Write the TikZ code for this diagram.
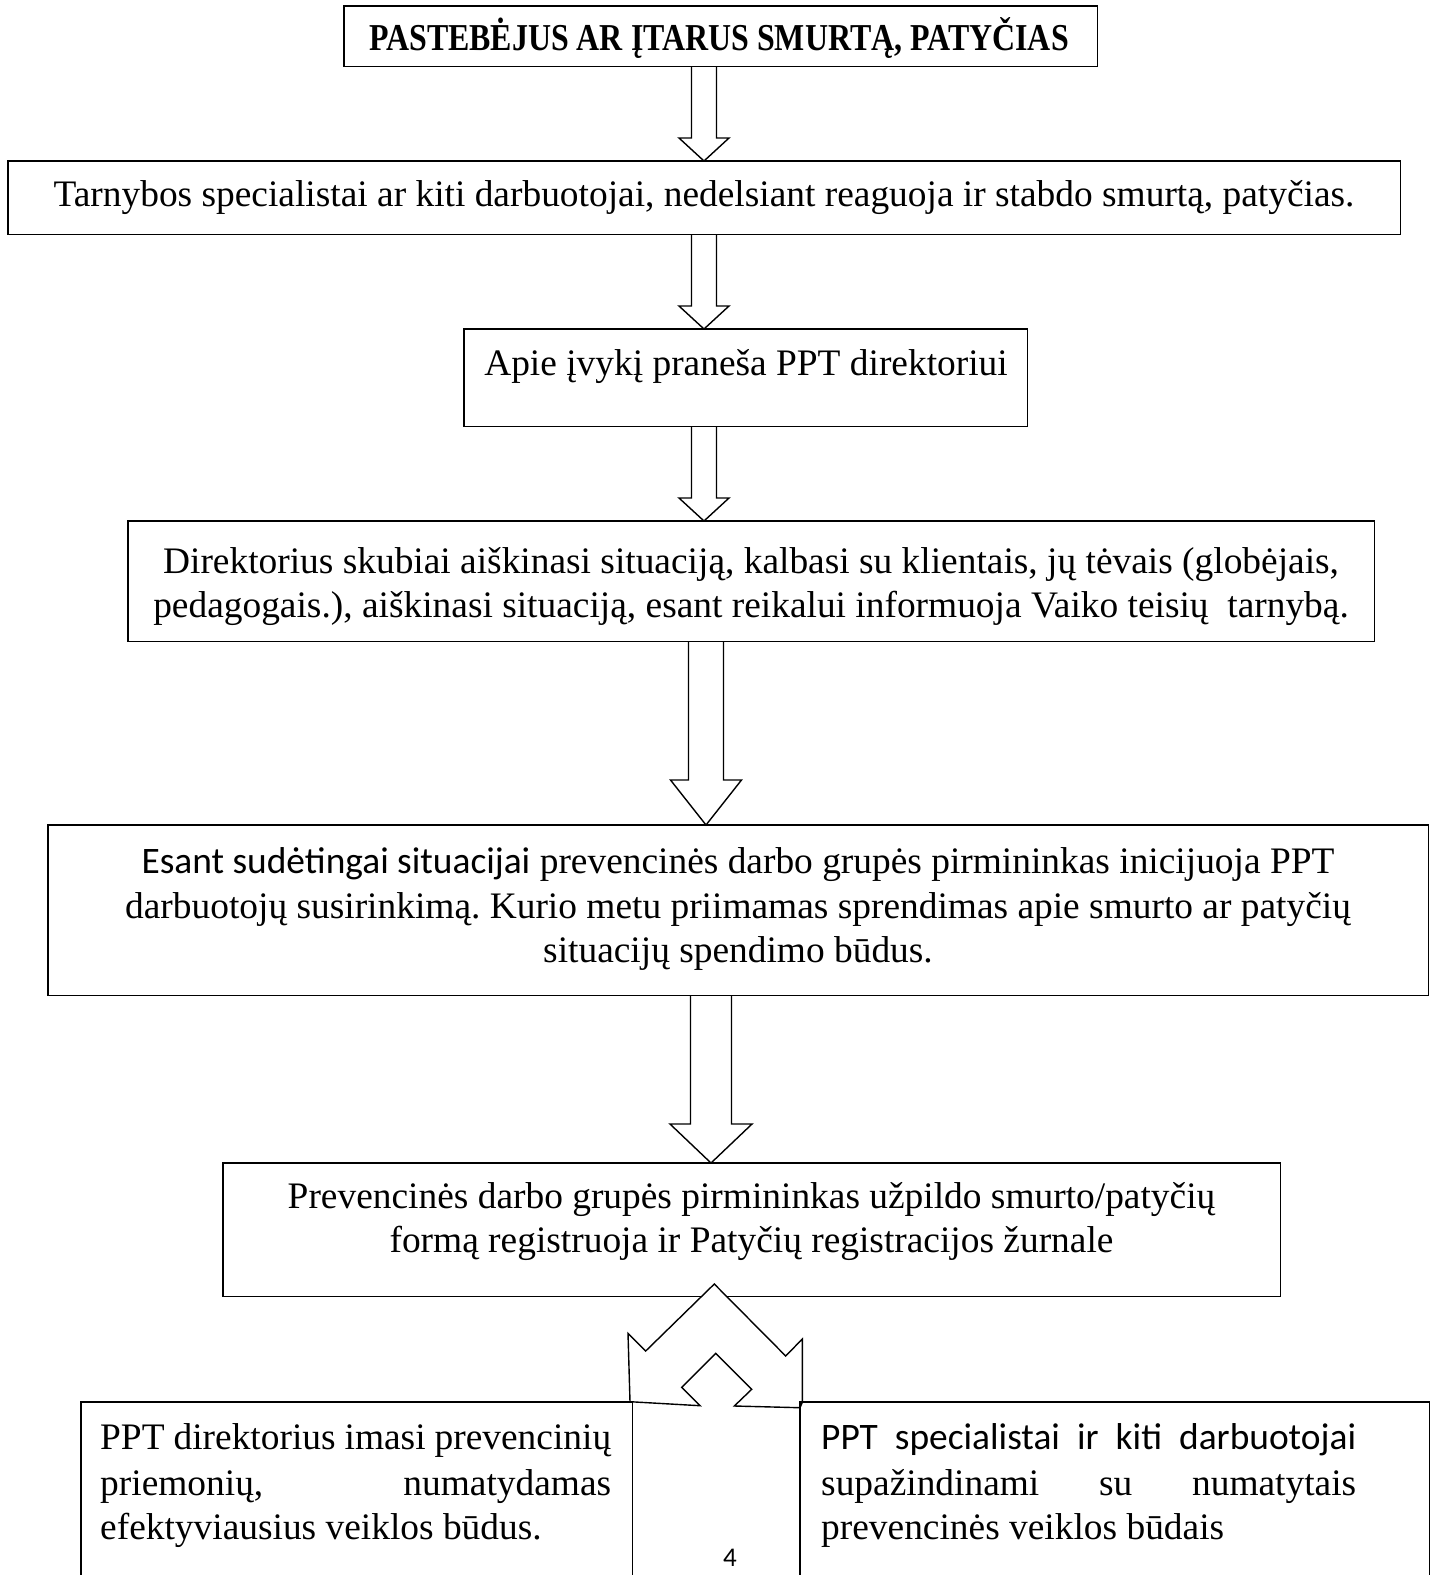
\documentclass[tikz,border=0pt]{standalone}
\usepackage{fontspec}
\setmainfont{Liberation Serif}
\newfontfamily\calib{Carlito}
\usetikzlibrary{calc}
\frenchspacing
\newcommand\blockarrow[6]{%
  \draw[barrow] let \p1=(#1.south), \p2=(#2.north) in
    ({#3pt-#4pt},\y1) -- ({#3pt-#4pt},{\y2+#6pt}) -- ({#3pt-#5pt},{\y2+#6pt})
    -- (#3pt,\y2) -- ({#3pt+#5pt},{\y2+#6pt}) -- ({#3pt+#4pt},{\y2+#6pt})
    -- ({#3pt+#4pt},\y1);}
\begin{document}
\begin{tikzpicture}[x=1pt,y=-1pt,
  geo/.style={inner sep=0pt, anchor=north west},
  boxline/.style={line width=1.8pt},
  txt/.style={anchor=base, inner sep=0pt, font=\fontsize{37.4}{42}\selectfont},
  ltxt/.style={anchor=base west, inner sep=0pt, font=\fontsize{37.4}{42}\selectfont},
  barrow/.style={draw, line width=1.4pt, fill=white, line join=miter}]
\clip (0,0) rectangle (1432,1575);
\fill[white] (0,0) rectangle (1432,1575);
% boxes (geometry)
\path (344,6) node[geo, minimum width=753pt, minimum height=60pt] (b1) {};
\path (8,161) node[geo, minimum width=1392pt, minimum height=73pt] (b2) {};
\path (464,329) node[geo, minimum width=563pt, minimum height=97pt] (b3) {};
\path (128,521) node[geo, minimum width=1246pt, minimum height=120pt] (b4) {};
\path (48,825) node[geo, minimum width=1380pt, minimum height=170pt] (b5) {};
\path (223,1163) node[geo, minimum width=1057pt, minimum height=133pt] (b6) {};
% straight block arrows
\blockarrow{b1}{b2}{704}{12.5}{25}{23}
\blockarrow{b2}{b3}{704}{12.5}{25}{23}
\blockarrow{b3}{b4}{704}{12.5}{25}{23}
\blockarrow{b4}{b5}{706}{17.5}{35.5}{45}
\blockarrow{b5}{b6}{711}{20.5}{41}{39}
% draw boxes
\foreach \b in {b1,b2,b3,b4,b5,b6} \draw[boxline] (\b.north west) rectangle (\b.south east);
% split arrow
\filldraw[barrow] (714.3,1284) coordinate (sa) -- (645.7,1351) -- (628,1333.3) -- (630,1401.7)
  -- (700,1405.7) -- (681.7,1387.3) -- (715.7,1353.3) -- (751.7,1389.3) -- (734.3,1406)
  -- (800,1407.7) -- (802.3,1402.3) -- (802.3,1339) -- (785.7,1356) -- cycle;
% bottom boxes
\path (81,1402) node[geo, minimum width=551pt, minimum height=200pt] (bl) {};
\path (800,1402) node[geo, minimum width=629pt, minimum height=200pt] (br) {};
\draw[boxline] (bl.north west) rectangle (bl.south east);
\draw[boxline] (br.north west) rectangle (br.south east);
% texts
\node[anchor=base, inner sep=0pt, font=\fontsize{38}{42}\selectfont\bfseries] (t1) at (719,50) {\scalebox{0.84}[1]{PASTEBĖJUS AR ĮTARUS SMURTĄ, PATYČIAS}};
\node[txt] (t2) at (704,206) {Tarnybos specialistai ar kiti darbuotojai, nedelsiant reaguoja ir stabdo smurtą, patyčias.};
\node[txt] (t3) at (746,375) {Apie įvykį praneša PPT direktoriui};
\node[txt] (t4a) at (751,573) {Direktorius skubiai aiškinasi situaciją, kalbasi su klientais, jų tėvais (globėjais,};
\node[txt] (t4b) at (751,617) {pedagogais.), aiškinasi situaciją, esant reikalui informuoja Vaiko teisių\ \ tarnybą.};
\node[txt] (t5a) at (738,873) {{\calib Esant sudėtingai situacijai} prevencinės darbo grupės pirmininkas inicijuoja PPT};
\node[txt] (t5b) at (738,918) {darbuotojų susirinkimą. Kurio metu priimamas sprendimas apie smurto ar patyčių};
\node[txt] (t5c) at (738,962) {situacijų spendimo būdus.};
\node[txt] (t6a) at (751.5,1208) {Prevencinės darbo grupės pirmininkas užpildo smurto/patyčių};
\node[txt] (t6b) at (751.5,1252) {formą registruoja ir Patyčių registracijos žurnale};
\node[ltxt] (tla) at (100,1449) {\hbox to 511pt{PPT direktorius imasi prevencinių}};
\node[ltxt] (tlb) at (100,1495) {\hbox to 511pt{priemonių, numatydamas}};
\node[ltxt] (tlc) at (100,1539) {efektyviausius veiklos būdus.};
\node[ltxt] (tra) at (821,1449) {\hbox to 535pt{\calib PPT specialistai ir kiti darbuotojai}};
\node[ltxt] (trb) at (821,1495) {\hbox to 535pt{supažindinami su numatytais}};
\node[ltxt] (trc) at (821,1539) {prevencinės veiklos būdais};
\node[anchor=base, inner sep=0pt, font=\calib\fontsize{27}{30}\selectfont] (pg) at (730,1566) {4};
\end{tikzpicture}
\end{document}
